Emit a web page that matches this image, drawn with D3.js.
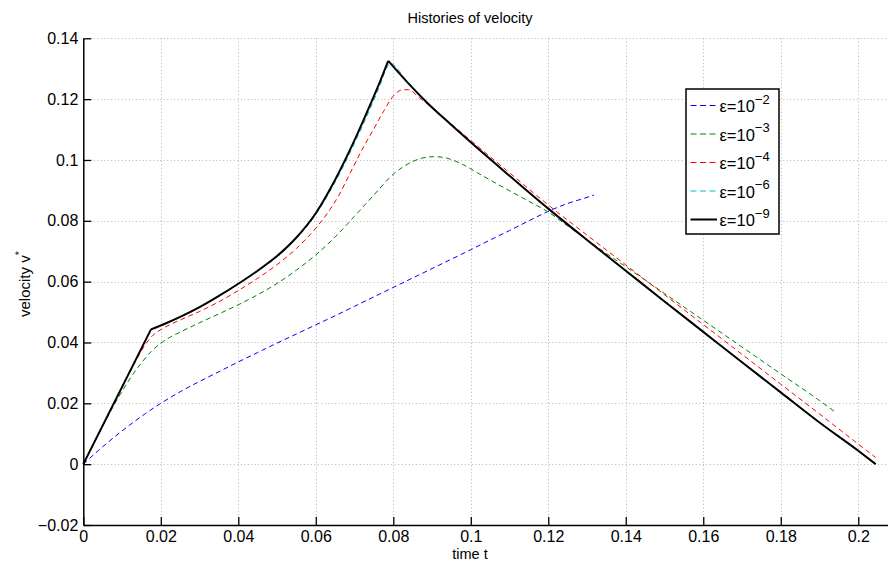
<!DOCTYPE html>
<html>
<head>
<meta charset="utf-8">
<script src="https://cdn.jsdelivr.net/npm/d3@7"></script>
<style>
  html, body { margin: 0; padding: 0; background: #fff; }
  svg { display: block; font-family: "Liberation Sans", Arial, Helvetica, sans-serif; }
</style>
</head>
<body>
<svg id="chart" width="888" height="565"></svg>
<script>
// Axis ticks
const xTicks = [0, 0.02, 0.04, 0.06, 0.08, 0.1, 0.12, 0.14, 0.16, 0.18, 0.2];
const xTickLabels = ["0", "0.02", "0.04", "0.06", "0.08", "0.1", "0.12", "0.14", "0.16", "0.18", "0.2"];
const yTicks = [-0.02, 0, 0.02, 0.04, 0.06, 0.08, 0.1, 0.12, 0.14];
const yTickLabels = ["\u22120.02", "0", "0.02", "0.04", "0.06", "0.08", "0.1", "0.12", "0.14"];

// Legend labels (exponent of epsilon)
const epsExponents = ["\u22122", "\u22123", "\u22124", "\u22126", "\u22129"];

// Velocity histories [t, v*] for each epsilon
const vEps2 = [
  [0, 0], [0.004, 0.0046], [0.008, 0.0089], [0.012, 0.0129], [0.016, 0.0166], [0.02, 0.0200],
  [0.025, 0.0238], [0.03, 0.0272], [0.035, 0.0304], [0.04, 0.0336], [0.045, 0.0367], [0.05, 0.0398],
  [0.055, 0.0428], [0.06, 0.0458], [0.065, 0.0488], [0.07, 0.0519], [0.075, 0.0550], [0.08, 0.0581],
  [0.085, 0.0612], [0.09, 0.0643], [0.095, 0.0674], [0.1, 0.0705], [0.105, 0.0737], [0.11, 0.0768],
  [0.115, 0.0800], [0.12, 0.0831], [0.125, 0.0857], [0.13, 0.0877], [0.1318, 0.0885]
];
const vEps3 = [
  [0, 0], [0.004, 0.0101], [0.008, 0.0196], [0.012, 0.0280], [0.015, 0.0333], [0.0175, 0.0370],
  [0.02, 0.0398], [0.0225, 0.0418], [0.025, 0.0434], [0.03, 0.0465], [0.035, 0.0494], [0.04, 0.0524],
  [0.045, 0.0557], [0.05, 0.0594], [0.055, 0.0638], [0.06, 0.0688], [0.065, 0.0747], [0.07, 0.0815],
  [0.075, 0.0885], [0.08, 0.0953], [0.085, 0.0995], [0.0877, 0.1007], [0.0905, 0.1011], [0.0938, 0.1006],
  [0.0981, 0.0984], [0.1024, 0.0953], [0.1067, 0.0922], [0.111, 0.0892], [0.1153, 0.0862], [0.12, 0.0829],
  [0.125, 0.0783], [0.1307, 0.0731], [0.14, 0.0649], [0.15, 0.0561], [0.16, 0.0473], [0.17, 0.0385],
  [0.18, 0.0297], [0.19, 0.0209], [0.1942, 0.0170]
];
const vEps4 = [
  [0, 0], [0.005, 0.0126], [0.01, 0.0252], [0.014, 0.0350], [0.016, 0.0393], [0.018, 0.0424],
  [0.02, 0.0442], [0.025, 0.0474], [0.03, 0.0502], [0.035, 0.0534], [0.04, 0.0571], [0.045, 0.0611],
  [0.05, 0.0656], [0.055, 0.0709], [0.06, 0.0776], [0.063, 0.0825], [0.066, 0.0885], [0.069, 0.0960],
  [0.072, 0.1035], [0.075, 0.1103], [0.0775, 0.1160], [0.08, 0.1210], [0.0825, 0.1231], [0.084, 0.1231],
  [0.0865, 0.1207], [0.09, 0.1172], [0.095, 0.1118], [0.1, 0.1064], [0.11, 0.0958], [0.12, 0.0852],
  [0.13, 0.0753], [0.14, 0.0655], [0.15, 0.0557], [0.16, 0.0459], [0.17, 0.0361], [0.18, 0.0263],
  [0.19, 0.0165], [0.2, 0.0066], [0.2045, 0.0022]
];
const vEps6 = [
  [0, 0], [0.01747, 0.0443],
  [0.0215, 0.0463], [0.025, 0.0483], [0.03, 0.0515], [0.035, 0.0552], [0.04, 0.0592], [0.045, 0.0635],
  [0.05, 0.0682], [0.055, 0.0742], [0.06, 0.0821], [0.065, 0.0928], [0.07, 0.1055], [0.074, 0.1168],
  [0.0766, 0.1246], [0.0782, 0.1300], [0.0793, 0.1318], [0.0805, 0.1308], [0.0836, 0.1256],
  [0.0886, 0.1190], [0.095, 0.1115], [0.1, 0.1058], [0.11, 0.0948], [0.12, 0.0840], [0.13, 0.0737],
  [0.14, 0.0636], [0.15, 0.0535], [0.16, 0.0435], [0.17, 0.0335], [0.18, 0.0236], [0.19, 0.0137],
  [0.2, 0.0044], [0.2045, 0]
];
const vEps9 = [
  [0, 0], [0.01747, 0.0443],
  [0.0215, 0.0464], [0.025, 0.0484], [0.03, 0.0516], [0.035, 0.0553], [0.04, 0.0593], [0.045, 0.0636],
  [0.05, 0.0684], [0.055, 0.0745], [0.06, 0.0825], [0.065, 0.0935], [0.07, 0.1065], [0.074, 0.1180],
  [0.0766, 0.1258], [0.0787, 0.1326],
  [0.0836, 0.1256], [0.0886, 0.1190], [0.095, 0.1115], [0.1, 0.1058], [0.11, 0.0948], [0.12, 0.0840],
  [0.13, 0.0737], [0.14, 0.0636], [0.15, 0.0535], [0.16, 0.0435], [0.17, 0.0335], [0.18, 0.0236],
  [0.19, 0.0137], [0.2, 0.0044], [0.2045, 0]
];
// Indices where a history has a sharp corner (curve is split there)
const cornersEps6 = [1];
const cornersEps9 = [1, 15];

const series = [
  { data: vEps2, corners: [], color: "#0000ff", dash: "5,3.5", width: 1 },
  { data: vEps3, corners: [], color: "#008000", dash: "5,3.5", width: 1 },
  { data: vEps4, corners: [], color: "#ff0000", dash: "5,3.5", width: 1 },
  { data: vEps6, corners: cornersEps6, color: "#00bfbf", dash: "5,3.5", width: 1 },
  { data: vEps9, corners: cornersEps9, color: "#000000", dash: null, width: 2 }
];

const svg = d3.select("#chart");
const plotLeft = 83.3, plotRight = 897, plotTop = 38.3, plotBottom = 525;

const x = d3.scaleLinear().domain([0, 0.21]).range([plotLeft, plotRight]);
const y = d3.scaleLinear().domain([-0.02, 0.14]).range([plotBottom, plotTop]);

// Dotted grid
const grid = svg.append("g").attr("stroke", "#b4b4b4").attr("stroke-width", 1).attr("stroke-dasharray", "1,2.5");
grid.selectAll("line.v").data(xTicks.filter(d => d > 0)).join("line")
  .attr("x1", d => Math.round(x(d)) + 0.5).attr("x2", d => Math.round(x(d)) + 0.5)
  .attr("y1", plotTop).attr("y2", plotBottom);
grid.selectAll("line.h").data(yTicks.filter(d => d > -0.02)).join("line")
  .attr("y1", d => Math.round(y(d)) + 0.5).attr("y2", d => Math.round(y(d)) + 0.5)
  .attr("x1", plotLeft).attr("x2", plotRight);

// Curves
const line = d3.line().x(d => x(d[0])).y(d => y(d[1])).curve(d3.curveMonotoneX);
function piecewisePath(s) {
  const cuts = [0, ...s.corners, s.data.length - 1];
  let p = "";
  for (let i = 0; i < cuts.length - 1; i++) {
    const piece = s.data.slice(cuts[i], cuts[i + 1] + 1);
    p += line(piece);
  }
  return p;
}
svg.append("g").selectAll("path").data(series).join("path")
  .attr("d", piecewisePath)
  .attr("fill", "none")
  .attr("stroke", d => d.color)
  .attr("stroke-width", d => d.width)
  .attr("stroke-dasharray", d => d.dash)
  .attr("stroke-linejoin", "miter");

// Axes with inward ticks
const yAxis = d3.axisLeft(y).tickValues(yTicks).tickFormat((d, i) => yTickLabels[i])
  .tickSizeInner(-8).tickSizeOuter(0).tickPadding(5);
const xAxis = d3.axisBottom(x).tickValues(xTicks).tickFormat((d, i) => xTickLabels[i])
  .tickSizeInner(-8).tickSizeOuter(0).tickPadding(6);

const gy = svg.append("g").attr("transform", `translate(${plotLeft},0)`).call(yAxis);
const gx = svg.append("g").attr("transform", `translate(0,${plotBottom})`).call(xAxis);
[gx, gy].forEach(g => {
  g.select(".domain").attr("stroke", "#000").attr("stroke-width", 1.5);
  g.selectAll(".tick line").attr("stroke", "#000").attr("stroke-width", 1.3);
  g.selectAll(".tick text").attr("fill", "#000").attr("font-size", 16)
    .attr("font-family", "'Liberation Sans', Arial, Helvetica, sans-serif");
});

// Titles
svg.append("text").attr("x", 470).attr("y", 23).attr("text-anchor", "middle")
  .attr("font-size", 14.5).text("Histories of velocity");
svg.append("text").attr("x", 470).attr("y", 559).attr("text-anchor", "middle")
  .attr("font-size", 14.5).text("time t");
const yl = svg.append("text").attr("transform", "translate(30,284) rotate(-90)")
  .attr("text-anchor", "middle").attr("font-size", 15);
yl.append("tspan").text("velocity v");
yl.append("tspan").attr("dy", -7).attr("font-size", 11).text("*");

// Legend
const lg = svg.append("g");
lg.append("rect").attr("x", 686).attr("y", 89).attr("width", 93).attr("height", 145)
  .attr("fill", "#fff").attr("stroke", "#000").attr("stroke-width", 1.5);
const rowY = d3.scaleLinear().domain([0, 4]).range([105.5, 219.5]);
const rows = lg.selectAll("g.row").data(series).join("g")
  .attr("transform", (d, i) => `translate(0,${rowY(i)})`);
rows.append("line").attr("x1", 690.5).attr("x2", 717).attr("y1", 0).attr("y2", 0)
  .attr("stroke", d => d.color).attr("stroke-width", d => d.width)
  .attr("stroke-dasharray", d => d.dash ? "6,3.5" : null);
const lt = rows.append("text").attr("x", 719.5).attr("y", 6.5).attr("font-size", 16.5);
lt.append("tspan").text("\u03b5=10");
lt.append("tspan").attr("dy", -8.5).attr("font-size", 13).text((d, i) => epsExponents[i]);
</script>
</body>
</html>
